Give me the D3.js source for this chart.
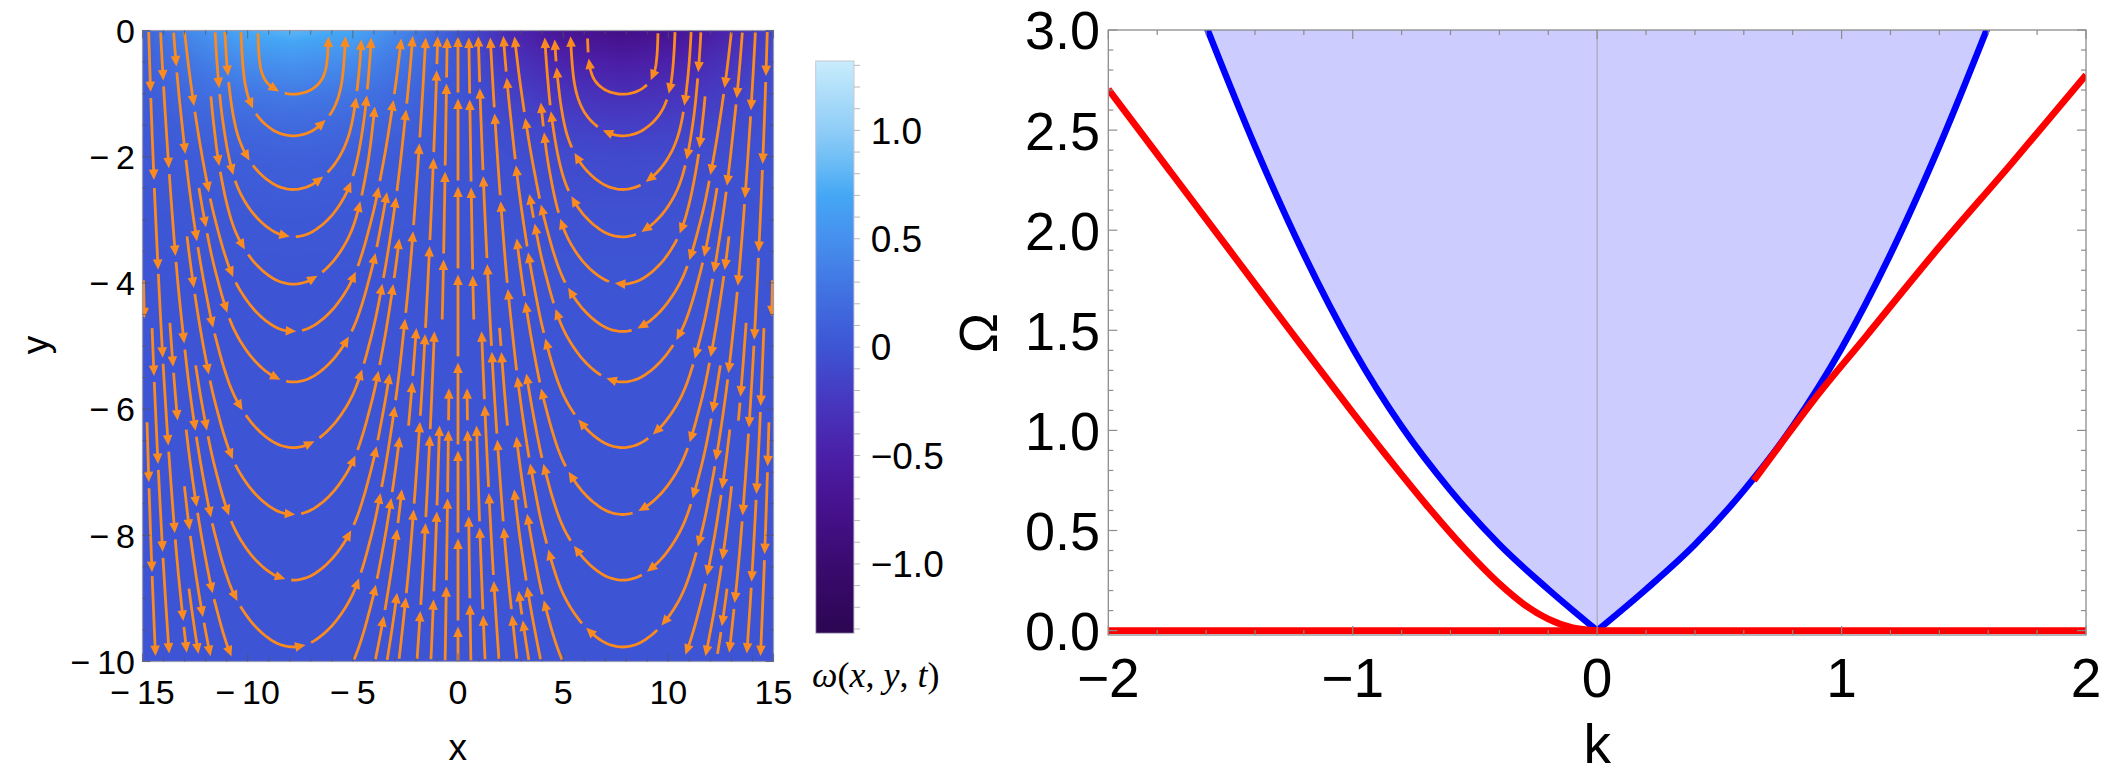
<!DOCTYPE html>
<html>
<head>
<meta charset="utf-8">
<script src="https://cdn.jsdelivr.net/npm/d3@7/dist/d3.min.js"></script>
<style>
  html, body { margin:0; padding:0; background:#ffffff; }
  svg { display:block; }
  .sans { font-family: "Liberation Sans", Arial, Helvetica, sans-serif; fill:#000; }
  .serif { font-family: "Liberation Serif", "Times New Roman", serif; fill:#000; }
</style>
</head>
<body>
<svg id="chart" width="2107" height="774" xmlns="http://www.w3.org/2000/svg"></svg>
<script>
// ================= DATA =================
// ---- left panel: vorticity field + streamlines ----
const fieldXTicks = [-15, -10, -5, 0, 5, 10, 15];
const fieldXTickLabels = ["\u2212\u200915", "\u2212\u200910", "\u2212\u20095", "0", "5", "10", "15"];
const fieldYTicks = [0, -2, -4, -6, -8, -10];
const fieldYTickLabels = ["0", "\u2212\u20092", "\u2212\u20094", "\u2212\u20096", "\u2212\u20098", "\u2212\u200910"];

// colour bar (value -> colour)
const colorbarValues = [-1.32, -1.0, -0.75, -0.5, -0.25, 0, 0.25, 0.5, 0.7, 0.85, 1.0, 1.32];
const colorbarColors = ["#2c0552", "#3a0b6f", "#46118c", "#4b1fa7", "#4737bf", "#3d55d4",
                        "#4171e1", "#4690ee", "#45a7f5", "#6bbcf5", "#8fcdf7", "#c8ecfc"];
const colorbarTicks = [1.0, 0.5, 0, -0.5, -1.0];
const colorbarTickLabels = ["1.0", "0.5", "0", "\u22120.5", "\u22121.0"];

// vorticity: horizontal pattern (sign/strength across x) and core value vs depth
const omegaSampleX       = [-15, -12.5, -10, -7.83, -5, -2.5, 0, 2.5, 5, 7.83, 10, 12.5, 15];
const omegaSampleXFactor = [0.15, 0.6, 0.9, 1, 0.85, 0.5, 0, -0.5, -0.85, -1, -0.9, -0.6, -0.15];
const omegaSampleDepth   = [-10, -4, -3, -2, -1.5, -1, -0.5, -0.25, 0];
const omegaCoreValue     = [0, 0, 0.03, 0.1, 0.19, 0.33, 0.53, 0.66, 0.8];

// streamlines: nested U-shaped lines around the two cores (mirror images)
const vortexCentreX = 7.83;
// depth of the bottom of each U-shaped streamline, in drawing priority order
const streamBottoms = [-1.01, -1.67, -2.52, -3.27, -4.02, -6.61, -9.77, -14.3,
                       -4.77, -5.57, -7.67, -8.71, -10.85, -12.0, -13.0, -11.3,
                       -15.6, -17.4, -21.3, -29.0];
// half width of the U where it meets the surface (null = not narrowed)
const streamTopHalfWidth = [1.72, 2.65, 3.65, 4.3, 4.95, null, null, null,
                            null, null, null, null, null, null, null, null,
                            null, null, null, null];
// common U profile: half width vs rise above the bottom
const streamProfileRise      = [0, 0.03, 0.08, 0.15, 0.25, 0.4, 0.6, 0.8, 1.0, 1.3, 1.6, 2.0,
                                2.5, 3.0, 4.0, 5.0, 6.0, 8.0, 10.0, 13.0, 17.0, 22.0, 30.0, 40.0];
const streamProfileHalfWidth = [0, 0.55, 0.9, 1.22, 1.58, 2.0, 2.43, 2.77, 3.03, 3.33, 3.58, 3.88,
                                4.18, 4.45, 4.9, 5.25, 5.55, 6.0, 6.35, 6.75, 7.1, 7.35, 7.6, 7.75];
const separatrixX = [0];

// ---- right panel: dispersion curves ----
const kTicks = [-2, -1, 0, 1, 2];
const kTickLabels = ["\u22122", "\u22121", "0", "1", "2"];
const omegaTicks = [0, 0.5, 1, 1.5, 2, 2.5, 3];
const omegaTickLabels = ["0.0", "0.5", "1.0", "1.5", "2.0", "2.5", "3.0"];

// edge of the continuum (blue), left and right branches
const continuumLeftK      = [-1.6, -1.4, -1.2, -1.0, -0.8, -0.6, -0.4, -0.2, 0];
const continuumLeftOmega  = [3.02, 2.42, 1.88, 1.41, 1.02, 0.70, 0.43, 0.206, 0];
const continuumRightK     = [0, 0.2, 0.4, 0.6, 0.8, 1.0, 1.2, 1.4, 1.6];
const continuumRightOmega = [0, 0.206, 0.43, 0.70, 1.02, 1.41, 1.88, 2.42, 3.02];
// discrete modes (red)
const redLeftK       = [-2.0, -1.75, -1.5, -1.25, -1.0, -0.85, -0.7, -0.55, -0.4, -0.3, -0.2, -0.1, 0];
const redLeftOmega   = [2.704, 2.299, 1.894, 1.489, 1.089, 0.855, 0.63, 0.42, 0.234, 0.132, 0.058, 0.014, 0];
const redRightK      = [0.641, 0.75, 0.885, 1.1, 1.375, 1.7, 2.0];
const redRightOmega  = [0.75, 0.93, 1.15, 1.47, 1.88, 2.34, 2.775];
const redZeroK       = [-2, 2];
const redZeroOmega   = [0, 0];

// ================= DRAWING =================
const svg = d3.select("#chart");
svg.append("rect").attr("width", 2107).attr("height", 774).attr("fill", "#ffffff");

const fx  = d3.scaleLinear([-15, 15], [142.5, 773.5]);
const fy  = d3.scaleLinear([-10, 0], [661.5, 30.5]);
const cbY = d3.scaleLinear([-1.32, 1.32], [633.3, 61]);
const kx  = d3.scaleLinear([-2, 2], [1108.3, 2086]);
const oy  = d3.scaleLinear([-0.022, 3], [635, 30]);

const defs = svg.append("defs");
defs.append("clipPath").attr("id", "clipField").append("rect")
  .attr("x", fx(-15)).attr("y", fy(0)).attr("width", fx(15) - fx(-15)).attr("height", fy(-10) - fy(0));
defs.append("clipPath").attr("id", "clipDisp").append("rect")
  .attr("x", kx(-2)).attr("y", oy(3)).attr("width", kx(2) - kx(-2)).attr("height", oy(-0.022) - oy(3));

// ---------- vorticity field ----------
const omegaColor = d3.scaleLinear(colorbarValues, colorbarColors).interpolate(d3.interpolateRgb).clamp(true);
const xFactor = d3.scaleLinear(omegaSampleX, omegaSampleXFactor).clamp(true);
const coreValue = d3.scaleLinear(omegaSampleDepth, omegaCoreValue).clamp(true);
const pw = Math.round(fx(15) - fx(-15)), ph = Math.round(fy(-10) - fy(0));
const canvas = document.createElement("canvas");
canvas.width = pw; canvas.height = ph;
const ctx = canvas.getContext("2d");
const img = ctx.createImageData(pw, ph);
const NL = 1024;
const lut = d3.range(NL).map(i => d3.rgb(omegaColor(-1.32 + 2.64 * i / (NL - 1))));
const colF = d3.range(pw).map(i => xFactor(fx.invert(fx(-15) + i + 0.5)));
for (let j = 0; j < ph; j++) {
  const c = coreValue(fy.invert(fy(0) + j + 0.5));
  for (let i = 0; i < pw; i++) {
    const w = c * colF[i];
    let idx = Math.round((w + 1.32) / 2.64 * (NL - 1));
    idx = Math.max(0, Math.min(NL - 1, idx));
    const col = lut[idx], o = (j * pw + i) * 4;
    img.data[o] = col.r; img.data[o + 1] = col.g; img.data[o + 2] = col.b; img.data[o + 3] = 255;
  }
}
ctx.putImageData(img, 0, 0);
svg.append("image").attr("x", fx(-15)).attr("y", fy(0)).attr("width", pw).attr("height", ph)
  .attr("preserveAspectRatio", "none").attr("href", canvas.toDataURL());

// ---------- streamlines ----------
const dataLine = d3.line().x(d => fx(d[0])).y(d => fy(d[1])).curve(d3.curveCatmullRom.alpha(0.5));
const tmpPath = svg.append("path").attr("fill", "none").attr("stroke", "none");

// smooth ceiling of the profile half width by the surface half width
const softCap = (w, cap) => (cap == null || w === 0) ? w : Math.pow(Math.pow(w, -4) + Math.pow(cap, -4), -0.25);

function uStreamline(bottom, cap) {
  const xc = -vortexCentreX;
  const arm = [];
  for (let j = 1; j < streamProfileRise.length; j++) {
    const y = bottom + streamProfileRise[j];
    arm.push([softCap(streamProfileHalfWidth[j], cap), y]);
    if (y > 0.4) break;
  }
  const down = arm.slice().reverse().map(([w, y]) => [xc - w, y]);
  const up = arm.map(([w, y]) => [xc + w, y]);
  return [...down, [xc, bottom], ...up];
}
function samplePath(points) {
  tmpPath.attr("d", dataLine(points));
  const node = tmpPath.node();
  const L = node.getTotalLength();
  const out = [];
  for (let s = 0; s <= L; s += 2) { const p = node.getPointAtLength(s); out.push([p.x, p.y]); }
  return out;
}
const R = { x0: fx(-15), x1: fx(15), y0: fy(0), y1: fy(-10) };
const inside = p => p[0] >= R.x0 + 1 && p[0] <= R.x1 - 1 && p[1] >= R.y0 + 1 && p[1] <= R.y1 - 1;
const SEP = 9, CELL = 9, MINRUN = 20;
const grid = new Map();
let lineId = 0;
const runs = [];
function tooClose(p, id) {
  const cx = Math.floor(p[0] / CELL), cy = Math.floor(p[1] / CELL);
  for (let dx = -1; dx <= 1; dx++) for (let dy = -1; dy <= 1; dy++) {
    const a = grid.get((cx + dx) + "_" + (cy + dy));
    if (!a) continue;
    for (const q of a) {
      if (q[2] !== id) { const ex = q[0] - p[0], ey = q[1] - p[1]; if (ex * ex + ey * ey < SEP * SEP) return true; }
    }
  }
  return false;
}
function addLine(points) {
  const id = lineId++;
  const samples = samplePath(points);
  const parts = []; let cur = [];
  for (const p of samples) {
    if (inside(p) && !tooClose(p, id)) cur.push(p);
    else { if (cur.length) parts.push(cur); cur = []; }
  }
  if (cur.length) parts.push(cur);
  const kept = parts.filter(r => r.length >= MINRUN);
  for (const r of kept) for (const p of r) {
    const k = Math.floor(p[0] / CELL) + "_" + Math.floor(p[1] / CELL);
    if (!grid.has(k)) grid.set(k, []);
    grid.get(k).push([p[0], p[1], id]);
  }
  kept.forEach(r => runs.push({ pts: r, id }));
}
separatrixX.forEach(x0 => addLine([[x0, -10.3], [x0, 0.3]]));
streamBottoms.forEach((b, i) => {
  const pts = uStreamline(b, streamTopHalfWidth[i]);
  addLine(pts);                               // left core
  addLine(pts.map(([x, y]) => [-x, y]));      // mirrored right core
});
tmpPath.remove();

const PIECE = 88, GAP = 4, HEAD = 10.5, HALF = 4.8;
const segs = [], heads = [];
function splitRun(run, phase) {
  const cum = [0];
  for (let i = 1; i < run.length; i++) cum.push(cum[i - 1] + Math.hypot(run[i][0] - run[i - 1][0], run[i][1] - run[i - 1][1]));
  const total = cum[cum.length - 1];
  let s = 0, first = true;
  while (s < total - 8) {
    let e = first ? Math.min(s + PIECE * (0.45 + phase), total) : Math.min(s + PIECE, total);
    if (total - e < 20) e = total;
    first = false;
    const segEnd = e - GAP;
    const i0 = d3.bisectLeft(cum, s);
    const i1 = Math.max(i0, d3.bisectRight(cum, segEnd) - 1);
    if (i1 - i0 >= 1) {
      if (segEnd - s > 24) {
        const tip = run[i1];
        const ib = Math.max(i0, d3.bisectLeft(cum, cum[i1] - HEAD));
        const base = run[ib];
        let ux = tip[0] - base[0], uy = tip[1] - base[1];
        const L = Math.hypot(ux, uy) || 1; ux /= L; uy /= L;
        const bx = tip[0] - ux * HEAD, by = tip[1] - uy * HEAD;
        heads.push([[tip[0], tip[1]], [bx - uy * HALF, by + ux * HALF], [bx + uy * HALF, by - ux * HALF]]);
        segs.push(run.slice(i0, Math.max(i0 + 1, ib) + 1));
      } else {
        segs.push(run.slice(i0, i1 + 1));
      }
    }
    s = e;
  }
}
runs.forEach(r => splitRun(r.pts, ((r.id * 7) % 11) / 11 * 0.55));
const streamG = svg.append("g").attr("clip-path", "url(#clipField)");
const ORANGE = "#fb8b1e";
streamG.selectAll("path.seg").data(segs).join("path").attr("class", "seg")
  .attr("d", d3.line()).attr("fill", "none").attr("stroke", ORANGE).attr("stroke-width", 2.8);
streamG.selectAll("path.head").data(heads).join("path").attr("class", "head")
  .attr("d", d => "M" + d.map(p => p[0].toFixed(2) + "," + p[1].toFixed(2)).join("L") + "Z")
  .attr("fill", ORANGE);

// ---------- left frame and ticks ----------
const lf = svg.append("g");
lf.append("rect").attr("x", R.x0).attr("y", R.y0).attr("width", R.x1 - R.x0).attr("height", R.y1 - R.y0)
  .attr("fill", "none").attr("stroke", "#9a9ab0").attr("stroke-width", 1.2);
const tickCol = "#555";
d3.range(-15, 15.01, 1).forEach(v => {
  const len = (Math.abs(v % 5) < 1e-6) ? 8 : 4;
  lf.append("line").attr("x1", fx(v)).attr("x2", fx(v)).attr("y1", R.y1).attr("y2", R.y1 - len).attr("stroke", tickCol).attr("opacity", 0.7);
  lf.append("line").attr("x1", fx(v)).attr("x2", fx(v)).attr("y1", R.y0).attr("y2", R.y0 + len).attr("stroke", tickCol).attr("opacity", 0.7);
});
d3.range(-10, 0.01, 0.5).forEach(v => {
  const len = (Math.abs(v % 2) < 1e-6) ? 8 : 4;
  lf.append("line").attr("y1", fy(v)).attr("y2", fy(v)).attr("x1", R.x0).attr("x2", R.x0 + len).attr("stroke", tickCol).attr("opacity", 0.7);
  lf.append("line").attr("y1", fy(v)).attr("y2", fy(v)).attr("x1", R.x1).attr("x2", R.x1 - len).attr("stroke", tickCol).attr("opacity", 0.7);
});
lf.selectAll("text.xt").data(fieldXTicks).join("text").attr("class", "xt sans")
  .attr("x", d => fx(d)).attr("y", 692).attr("dy", "0.36em").attr("text-anchor", "middle")
  .attr("font-size", 34).text((d, i) => fieldXTickLabels[i]);
lf.selectAll("text.yt").data(fieldYTicks).join("text").attr("class", "yt sans")
  .attr("x", 135).attr("y", d => fy(d)).attr("dy", "0.36em").attr("text-anchor", "end")
  .attr("font-size", 34).text((d, i) => fieldYTickLabels[i]);
lf.append("text").attr("class", "sans").attr("x", 457.7).attr("y", 760).attr("text-anchor", "middle")
  .attr("font-size", 37).text("x");
lf.append("text").attr("class", "sans").attr("transform", "translate(38,345) rotate(-90)")
  .attr("text-anchor", "middle").attr("dominant-baseline", "middle").attr("font-size", 37).text("y");

// ---------- colour bar ----------
const grad = defs.append("linearGradient").attr("id", "cbGrad").attr("x1", 0).attr("y1", 1).attr("x2", 0).attr("y2", 0);
colorbarValues.forEach((v, i) => grad.append("stop").attr("offset", (v + 1.32) / 2.64).attr("stop-color", colorbarColors[i]));
const cbx = 815.7, cbw = 38.3;
svg.append("rect").attr("x", cbx).attr("y", cbY(1.32)).attr("width", cbw).attr("height", cbY(-1.32) - cbY(1.32))
  .attr("fill", "url(#cbGrad)").attr("stroke", "#c8c8d8").attr("stroke-width", 1);
d3.range(-13, 14, 1).forEach(t => {
  const v = t / 10;
  svg.append("line").attr("x1", cbx + cbw).attr("x2", cbx + cbw + 6).attr("y1", cbY(v)).attr("y2", cbY(v))
    .attr("stroke", "#b8b8b8").attr("stroke-width", 1);
});
svg.selectAll("text.cbt").data(colorbarTicks).join("text").attr("class", "cbt sans")
  .attr("x", 870.7).attr("y", d => cbY(d)).attr("dy", "0.36em").attr("font-size", 37)
  .text((d, i) => colorbarTickLabels[i]);
const wl = svg.append("text").attr("class", "serif").attr("x", 812).attr("y", 687).attr("font-size", 36);
wl.append("tspan").attr("font-style", "italic").text("\u03c9");
wl.append("tspan").text("(");
wl.append("tspan").attr("font-style", "italic").text("x");
wl.append("tspan").text(", ");
wl.append("tspan").attr("font-style", "italic").text("y");
wl.append("tspan").text(", ");
wl.append("tspan").attr("font-style", "italic").text("t");
wl.append("tspan").text(")");

// ---------- right panel ----------
const rg = svg.append("g");
const plotG = rg.append("g").attr("clip-path", "url(#clipDisp)");
const dispLine = d3.line().x(d => kx(d[0])).y(d => oy(d[1])).curve(d3.curveMonotoneX);
const blueLeft = continuumLeftK.map((k, i) => [k, continuumLeftOmega[i]]);
const blueRight = continuumRightK.map((k, i) => [k, continuumRightOmega[i]]);
plotG.append("path").attr("d", dispLine(blueLeft) + dispLine(blueRight).replace(/^M/, "L") + "Z")
  .attr("fill", "#ccccff").attr("stroke", "none");
plotG.append("line").attr("x1", kx(0)).attr("x2", kx(0)).attr("y1", oy(3)).attr("y2", oy(-0.022))
  .attr("stroke", "#a0a0a0").attr("stroke-width", 1);
[blueLeft, blueRight].forEach(pts => {
  plotG.append("path").attr("d", dispLine(pts)).attr("fill", "none").attr("stroke", "#0000ff")
    .attr("stroke-width", 6.5).attr("stroke-linejoin", "round");
});
[[redLeftK, redLeftOmega], [redRightK, redRightOmega], [redZeroK, redZeroOmega]].forEach(([ks, os]) => {
  plotG.append("path").attr("d", dispLine(ks.map((k, i) => [k, os[i]])))
    .attr("fill", "none").attr("stroke", "#ff0000").attr("stroke-width", 6.8);
});
// frame and ticks
const RX0 = kx(-2), RX1 = kx(2), RY0 = oy(3), RY1 = oy(-0.022);
rg.append("rect").attr("x", RX0).attr("y", RY0).attr("width", RX1 - RX0).attr("height", RY1 - RY0)
  .attr("fill", "none").attr("stroke", "#8c8c8c").attr("stroke-width", 1.3);
d3.range(0, 31, 1).forEach(t => {
  const v = t / 10, len = (t % 5 === 0) ? 9 : 5;
  rg.append("line").attr("x1", RX0).attr("x2", RX0 + len).attr("y1", oy(v)).attr("y2", oy(v)).attr("stroke", "#8c8c8c").attr("stroke-width", 1.2);
  rg.append("line").attr("x1", RX1).attr("x2", RX1 - len).attr("y1", oy(v)).attr("y2", oy(v)).attr("stroke", "#8c8c8c").attr("stroke-width", 1.2);
});
d3.range(-10, 11, 1).forEach(t => {
  const v = t / 5, len = (t % 5 === 0) ? 9 : 5;
  rg.append("line").attr("x1", kx(v)).attr("x2", kx(v)).attr("y1", RY1).attr("y2", RY1 - len).attr("stroke", "#8c8c8c").attr("stroke-width", 1.2);
  rg.append("line").attr("x1", kx(v)).attr("x2", kx(v)).attr("y1", RY0).attr("y2", RY0 + len).attr("stroke", "#8c8c8c").attr("stroke-width", 1.2);
});
rg.selectAll("text.kt").data(kTicks).join("text").attr("class", "kt sans")
  .attr("x", d => kx(d)).attr("y", 677).attr("dy", "0.36em").attr("text-anchor", "middle")
  .attr("font-size", 55).text((d, i) => kTickLabels[i]);
rg.selectAll("text.ot").data(omegaTicks).join("text").attr("class", "ot sans")
  .attr("x", 1100).attr("y", d => oy(d)).attr("dy", "0.36em").attr("text-anchor", "end")
  .attr("font-size", 54).text((d, i) => omegaTickLabels[i]);
rg.append("text").attr("class", "sans").attr("x", kx(0)).attr("y", 763).attr("text-anchor", "middle")
  .attr("font-size", 55).text("k");
rg.append("text").attr("class", "sans").attr("transform", "translate(978,333) rotate(-90)")
  .attr("text-anchor", "middle").attr("dy", "0.36em").attr("font-size", 54).text("\u03a9");
</script>
</body>
</html>
